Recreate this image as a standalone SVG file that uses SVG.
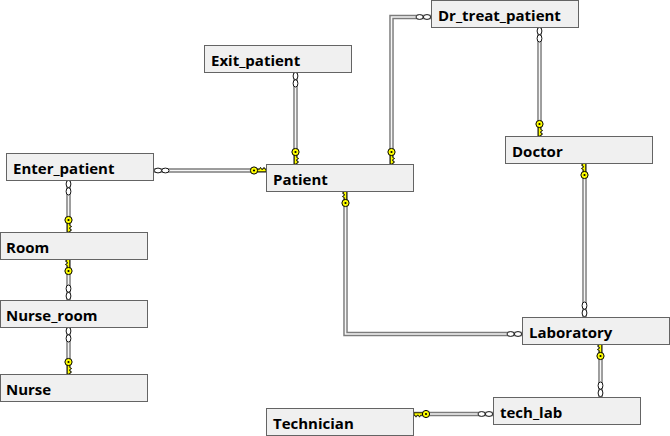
<svg xmlns="http://www.w3.org/2000/svg" xmlns:xlink="http://www.w3.org/1999/xlink" width="670" height="436" viewBox="0 0 670 436">
<style>
.box{fill:#f0f0f0;stroke:#646464;stroke-width:1}
.lbl{font-family:"Open Sans","Noto Sans","DejaVu Sans",sans-serif;font-weight:bold;font-size:15px;fill:#000}
.ln1{fill:none;stroke:#7c7c7c;stroke-width:4.5}
.ln2{fill:none;stroke:#f6f6f6;stroke-width:1.6}
</style>
<defs>
<g id="key">
<polygon points="-1.2,-9 1.2,-9 1.2,-6.5 3.2,-5.5 1.2,-4.5 1.2,-3 3.2,-2 1.2,-1 1.2,0 -1.2,0" fill="#ffff00" stroke="#000" stroke-width="0.8"/>
<circle cx="0" cy="-12" r="3.6" fill="#ffff00" stroke="#000" stroke-width="1"/>
<circle cx="0" cy="-12" r="1.1" fill="#000"/>
</g>
<g id="many">
<ellipse cx="0" cy="-4" rx="2.4" ry="3.6" fill="#fff" stroke="#000" stroke-width="0.9"/>
<ellipse cx="0" cy="-11.4" rx="2.4" ry="3.6" fill="#fff" stroke="#000" stroke-width="0.9"/>
</g>
</defs>
<g id="connectors">
<g id="c1"><path class="ln1" d="M154,170.5H266"/><path class="ln2" d="M154,170.5H266"/></g>
<g id="c2"><path class="ln1" d="M295.5,72V164"/><path class="ln2" d="M295.5,72V164"/></g>
<g id="c3"><path class="ln1" d="M431,17H391.5V164"/><path class="ln2" d="M431,17H391.5V164"/></g>
<g id="c4"><path class="ln1" d="M539.5,27V136"/><path class="ln2" d="M539.5,27V136"/></g>
<g id="c5"><path class="ln1" d="M345.5,191V334H522"/><path class="ln2" d="M345.5,191V334H522"/></g>
<g id="c6"><path class="ln1" d="M584.5,163V317"/><path class="ln2" d="M584.5,163V317"/></g>
<g id="c7"><path class="ln1" d="M600.5,344V397"/><path class="ln2" d="M600.5,344V397"/></g>
<g id="c8"><path class="ln1" d="M414,414H493"/><path class="ln2" d="M414,414H493"/></g>
<g id="c9"><path class="ln1" d="M68.5,180V232"/><path class="ln2" d="M68.5,180V232"/></g>
<g id="c10"><path class="ln1" d="M68.5,259V300"/><path class="ln2" d="M68.5,259V300"/></g>
<g id="c11"><path class="ln1" d="M68.5,327V374"/><path class="ln2" d="M68.5,327V374"/></g>
<use xlink:href="#many" transform="translate(154,170.5) rotate(90)"/>
<use xlink:href="#key" transform="translate(266,170.5) rotate(-90)"/>
<use xlink:href="#many" transform="translate(295.5,72) rotate(180)"/>
<use xlink:href="#key" transform="translate(295.5,164)"/>
<use xlink:href="#many" transform="translate(431,17) rotate(-90)"/>
<use xlink:href="#key" transform="translate(391.5,164)"/>
<use xlink:href="#many" transform="translate(539.5,27) rotate(180)"/>
<use xlink:href="#key" transform="translate(539.5,136)"/>
<use xlink:href="#key" transform="translate(345.5,191) rotate(180)"/>
<use xlink:href="#many" transform="translate(522,334) rotate(-90)"/>
<use xlink:href="#key" transform="translate(584.5,163) rotate(180)"/>
<use xlink:href="#many" transform="translate(584.5,317)"/>
<use xlink:href="#key" transform="translate(600.5,344) rotate(180)"/>
<use xlink:href="#many" transform="translate(600.5,397)"/>
<use xlink:href="#key" transform="translate(414,414) rotate(90)"/>
<use xlink:href="#many" transform="translate(493,414) rotate(-90)"/>
<use xlink:href="#many" transform="translate(68.5,180) rotate(180)"/>
<use xlink:href="#key" transform="translate(68.5,232)"/>
<use xlink:href="#key" transform="translate(68.5,259) rotate(180)"/>
<use xlink:href="#many" transform="translate(68.5,300)"/>
<use xlink:href="#many" transform="translate(68.5,327) rotate(180)"/>
<use xlink:href="#key" transform="translate(68.5,374)"/>
</g>
<g id="Exit_patient"><rect class="box" x="204.5" y="45.5" width="147" height="27"/><text class="lbl" x="211" y="66">Exit_patient</text></g>
<g id="Dr_treat_patient"><rect class="box" x="431.5" y="0.5" width="147" height="27"/><text class="lbl" x="438" y="21">Dr_treat_patient</text></g>
<g id="Doctor"><rect class="box" x="505.5" y="136.5" width="147" height="27"/><text class="lbl" x="512" y="157">Doctor</text></g>
<g id="Patient"><rect class="box" x="266.5" y="164.5" width="147" height="27"/><text class="lbl" x="273" y="185">Patient</text></g>
<g id="Enter_patient"><rect class="box" x="6.5" y="153.5" width="147" height="27"/><text class="lbl" x="13" y="174">Enter_patient</text></g>
<g id="Room"><rect class="box" x="0.5" y="232.5" width="147" height="27"/><text class="lbl" x="6" y="253">Room</text></g>
<g id="Nurse_room"><rect class="box" x="0.5" y="300.5" width="147" height="27"/><text class="lbl" x="6" y="321">Nurse_room</text></g>
<g id="Nurse"><rect class="box" x="0.5" y="374.5" width="147" height="27"/><text class="lbl" x="6" y="395">Nurse</text></g>
<g id="Laboratory"><rect class="box" x="522.5" y="317.5" width="147" height="27"/><text class="lbl" x="529" y="338">Laboratory</text></g>
<g id="tech_lab"><rect class="box" x="493.5" y="397.5" width="147" height="27"/><text class="lbl" x="500" y="418">tech_lab</text></g>
<g id="Technician"><rect class="box" x="266.5" y="408.5" width="147" height="27"/><text class="lbl" x="273" y="429">Technician</text></g>
</svg>
